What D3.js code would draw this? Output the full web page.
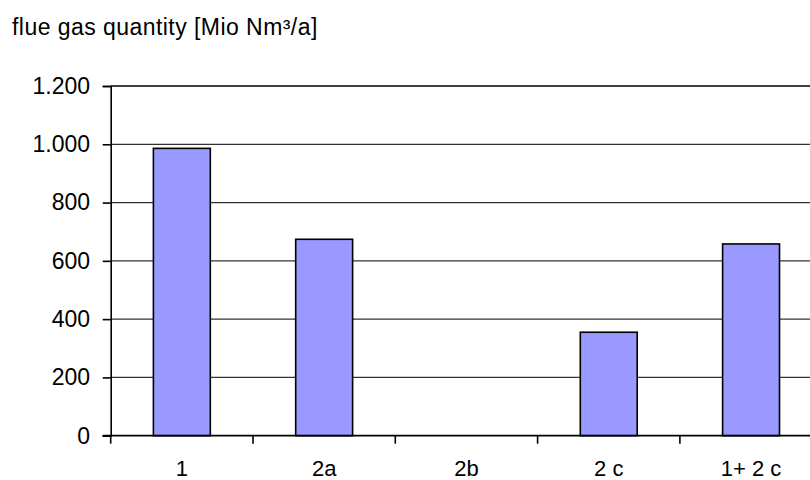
<!DOCTYPE html>
<html><head><meta charset="utf-8">
<script src="https://cdn.jsdelivr.net/npm/d3@7"></script>
<style>
html,body{margin:0;padding:0;background:#fff;}
svg{display:block;}
text{font-family:"Liberation Sans",Arial,sans-serif;fill:#000;}
</style></head>
<body><svg id="c" width="810" height="480"></svg>
<script>
const categories = ["1", "2a", "2b", "2 c", "1+ 2 c"];
const values = [986, 674, 0, 355, 658];
const yTicks = [0, 200, 400, 600, 800, 1000, 1200];
const yTickLabels = ["0", "200", "400", "600", "800", "1.000", "1.200"];
const title = "flue gas quantity [Mio Nm³/a]";

(function () {
const svg = d3.select("#c");
const pLeft = 110.7, pTop = 86, pBottom = 435.7, step = 142.3;
const pRight = pLeft + step * categories.length;
const fs = 23;

const x = d3.scaleBand().domain(categories).range([pLeft, pRight]).padding(0);
const y = d3.scaleLinear().domain([0, 1200]).range([pBottom, pTop]);

svg.append("text").attr("x", 12).attr("y", 34.5).attr("font-size", fs)
  .attr("letter-spacing", "0.45px").text(title);

// gridlines
svg.append("g").selectAll("line").data(yTicks.filter(d => d > 0 && d < 1200)).join("line")
  .attr("x1", pLeft).attr("x2", pRight).attr("y1", d => y(d)).attr("y2", d => y(d))
  .attr("stroke", "#333").attr("stroke-width", 1.3);

// bars
const bw = x.bandwidth() * 0.4;
svg.append("g").selectAll("rect").data(values.map((v, i) => ({c: categories[i], v})).filter(d => d.v > 0)).join("rect")
  .attr("x", d => x(d.c) + (x.bandwidth() - bw) / 2)
  .attr("y", d => y(d.v))
  .attr("width", bw)
  .attr("height", d => y(0) - y(d.v))
  .attr("fill", "#9999ff").attr("stroke", "#000").attr("stroke-width", 1.6);

// plot border top / right
svg.append("line").attr("x1", pLeft).attr("x2", pRight).attr("y1", pTop).attr("y2", pTop).attr("stroke", "#000").attr("stroke-width", 1.6);
svg.append("line").attr("x1", pRight).attr("x2", pRight).attr("y1", pTop).attr("y2", pBottom).attr("stroke", "#000").attr("stroke-width", 1.6);

// y axis
const yAxis = d3.axisLeft(y).tickValues(yTicks).tickSize(8).tickPadding(12.7)
  .tickFormat((d, i) => yTickLabels[i]);
const gy = svg.append("g").attr("transform", `translate(${pLeft},0)`).call(yAxis);
gy.selectAll("path,line").attr("stroke", "#000").attr("stroke-width", 1.6);
gy.selectAll("text").attr("font-size", fs).attr("font-family", "Liberation Sans, Arial, sans-serif");

// x axis with ticks at band boundaries
const xAxis = d3.axisBottom(x).tickSize(0);
const gx = svg.append("g").attr("transform", `translate(0,${pBottom})`).call(xAxis);
gx.select("path").remove();
gx.selectAll("text").attr("font-size", 22).attr("font-family", "Liberation Sans, Arial, sans-serif")
  .attr("dy", null).attr("y", 40);
const edges = d3.range(categories.length + 1).map(i => i === categories.length ? pRight : x(categories[i]));
svg.append("g").selectAll("line").data(edges).join("line")
  .attr("x1", d => d).attr("x2", d => d).attr("y1", pBottom).attr("y2", pBottom + 8)
  .attr("stroke", "#000").attr("stroke-width", 1.6);
svg.append("line").attr("x1", pLeft - 8).attr("x2", pRight).attr("y1", pBottom).attr("y2", pBottom)
  .attr("stroke", "#000").attr("stroke-width", 1.8);
})();
</script></body></html>
